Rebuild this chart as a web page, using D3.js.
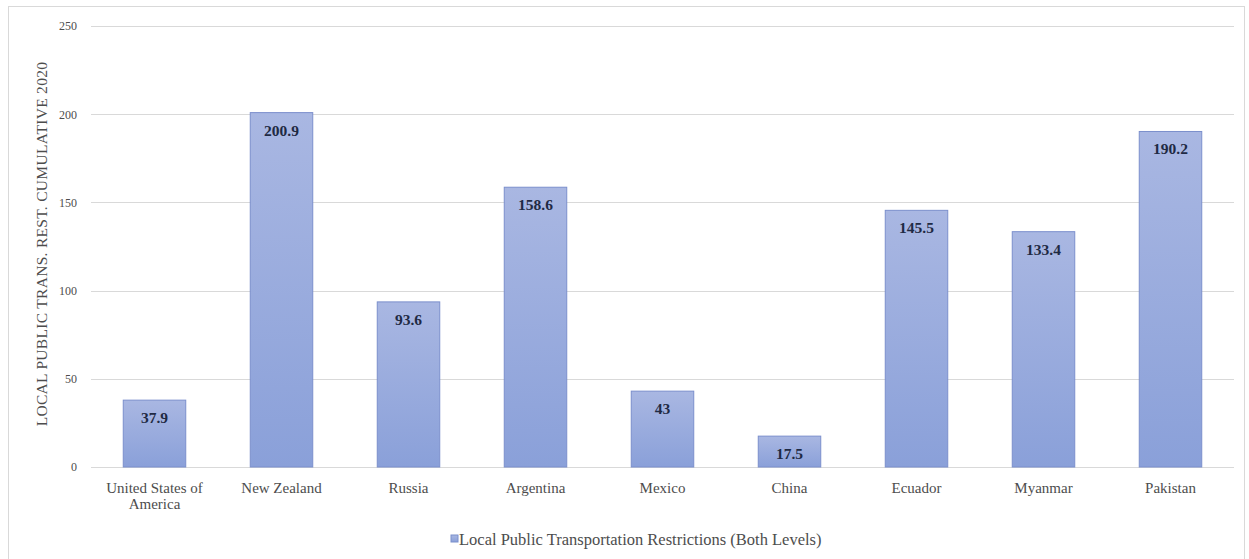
<!DOCTYPE html>
<html>
<head>
<meta charset="utf-8">
<script src="https://cdn.jsdelivr.net/npm/d3@7/dist/d3.min.js"></script>
<style>
  html, body { margin: 0; padding: 0; background: #fff; }
  svg { display: block; }
  svg text { font-family: 'Liberation Serif', 'DejaVu Serif', serif !important; }
</style>
</head>
<body>
<svg id="chart" width="1249" height="559"></svg>
<script>
// Data
const countries = ["United States of America", "New Zealand", "Russia", "Argentina", "Mexico", "China", "Ecuador", "Myanmar", "Pakistan"];
const values = [37.9, 200.9, 93.6, 158.6, 43, 17.5, 145.5, 133.4, 190.2];
const valueLabels = ["37.9", "200.9", "93.6", "158.6", "43", "17.5", "145.5", "133.4", "190.2"];
const yTicks = [0, 50, 100, 150, 200, 250];
const seriesName = "Local Public Transportation Restrictions (Both Levels)";
const yTitle = "LOCAL PUBLIC TRANS. REST. CUMULATIVE 2020";

const FONT = "'Liberation Serif', 'DejaVu Serif', serif";
const svg = d3.select("#chart").style("font-family", FONT);
const plot = { left: 91, right: 1234, top: 26, bottom: 467 };

// Outer chart frame
svg.append("rect")
  .attr("x", 8.5).attr("y", 6.5)
  .attr("width", 1236).attr("height", 560)
  .attr("fill", "#fff").attr("stroke", "#d9d9d9").attr("stroke-width", 1);

const defs = svg.append("defs");
const grad = defs.append("linearGradient")
  .attr("id", "barGrad").attr("x1", 0).attr("y1", 0).attr("x2", 0).attr("y2", 1);
grad.append("stop").attr("offset", "0%").attr("stop-color", "#a9b7e2");
grad.append("stop").attr("offset", "100%").attr("stop-color", "#8aa0d9");

const x = d3.scaleBand().domain(countries).range([plot.left, plot.right]).paddingInner(0.5).paddingOuter(0.25);
const y = d3.scaleLinear().domain([0, 250]).range([plot.bottom, plot.top]);

// Gridlines
svg.append("g").selectAll("line").data(yTicks).join("line")
  .attr("x1", plot.left).attr("x2", plot.right)
  .attr("y1", d => Math.round(y(d)) + 0.5).attr("y2", d => Math.round(y(d)) + 0.5)
  .attr("stroke", "#d9d9d9").attr("stroke-width", 1);

// Y axis labels
const yAxis = d3.axisLeft(y).tickValues(yTicks).tickSize(0).tickPadding(14);
const gy = svg.append("g").attr("transform", `translate(${plot.left},0)`).call(yAxis);
gy.attr("font-family", FONT);
gy.select(".domain").remove();
gy.selectAll("text").attr("font-size", 12).attr("fill", "#4d4d4d").attr("font-family", FONT);

// Y axis title
svg.append("text")
  .attr("transform", `translate(47, 244) rotate(-90)`)
  .attr("text-anchor", "middle")
  .attr("font-family", FONT)
  .attr("font-size", 15.5).attr("fill", "#4d4d4d")
  .attr("letter-spacing", 0.3)
  .text(yTitle);

// Bars
const data = countries.map((c, i) => ({ c, v: values[i], label: valueLabels[i] }));
svg.append("g").selectAll("rect").data(data).join("rect")
  .attr("x", d => x(d.c) + 0.5)
  .attr("y", d => y(d.v))
  .attr("width", x.bandwidth() - 1)
  .attr("height", d => y(0) - y(d.v))
  .attr("fill", "url(#barGrad)")
  .attr("stroke", "#7b8fcc").attr("stroke-width", 1);

// Value labels inside bar tops
svg.append("g").selectAll("text").data(data).join("text")
  .attr("x", d => x(d.c) + x.bandwidth() / 2)
  .attr("y", d => y(d.v) + 23)
  .attr("text-anchor", "middle")
  .attr("font-family", FONT)
  .attr("font-size", 15.5).attr("font-weight", "bold").attr("fill", "#1f2a44")
  .text(d => d.label);

// X axis category labels
const xl = svg.append("g").selectAll("text").data(countries).join("text")
  .attr("x", d => x(d) + x.bandwidth() / 2)
  .attr("y", 493)
  .attr("text-anchor", "middle")
  .attr("font-family", FONT)
  .attr("font-size", 15).attr("fill", "#4d4d4d");
xl.each(function(d) {
  const t = d3.select(this);
  if (d === "United States of America") {
    t.append("tspan").attr("x", x(d) + x.bandwidth() / 2).attr("dy", 0).text("United States of");
    t.append("tspan").attr("x", x(d) + x.bandwidth() / 2).attr("dy", 15.5).text("America");
  } else {
    t.text(d);
  }
});

// Legend
const legend = svg.append("g");
legend.append("text")
  .attr("x", 459).attr("y", 545)
  .attr("font-family", FONT)
  .attr("font-size", 16.5).attr("fill", "#4d4d4d")
  .text(seriesName);
legend.append("rect")
  .attr("x", 451).attr("y", 535).attr("width", 7).attr("height", 7)
  .attr("fill", "url(#barGrad)").attr("stroke", "#7b8fcc").attr("stroke-width", 1);
</script>
</body>
</html>
